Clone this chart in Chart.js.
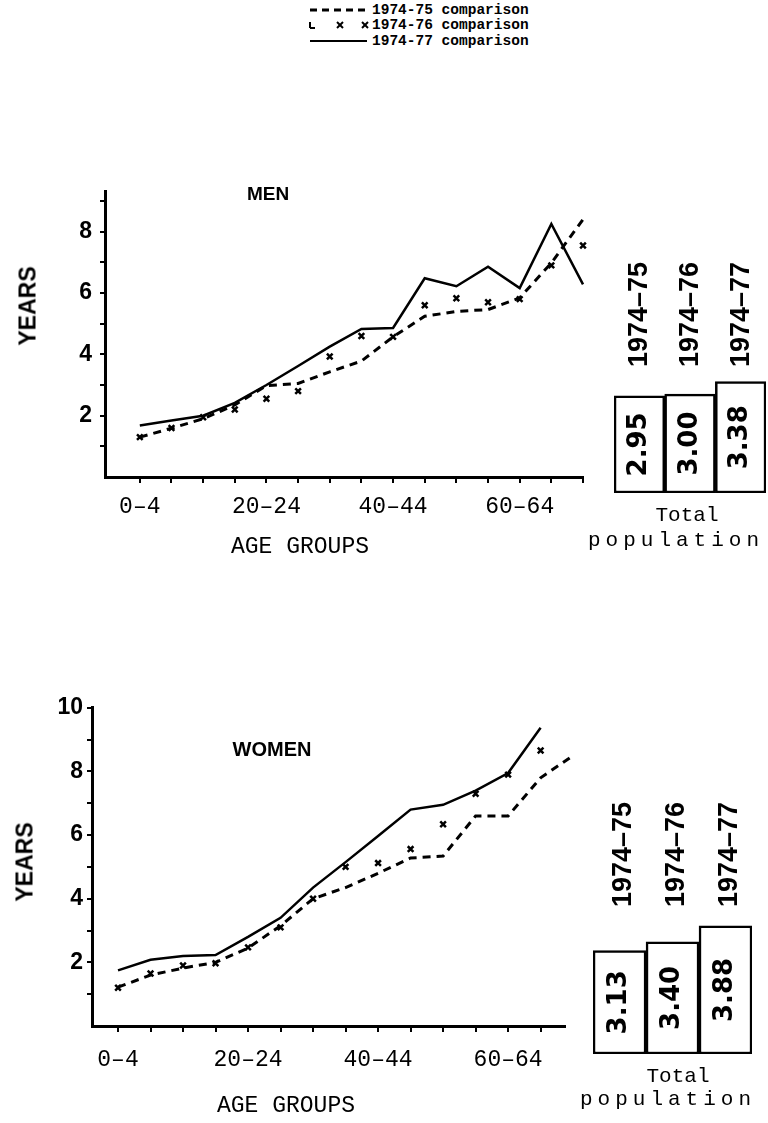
<!DOCTYPE html>
<html><head><meta charset="utf-8">
<script src="https://cdn.jsdelivr.net/npm/chart.js@4.4.1/dist/chart.umd.min.js"></script>
<style>
html,body{margin:0;padding:0;background:#fff;}
body{width:768px;height:1123px;position:relative;overflow:hidden;}
canvas{position:absolute;}
.t{position:absolute;white-space:nowrap;color:#000;transform:translate(-50%,-50%);line-height:1;}
.r{transform:translate(-50%,-50%) rotate(-90deg);}
.mono{font-family:"Liberation Mono","DejaVu Sans Mono",monospace;}
.sans{font-family:"Liberation Sans",Arial,sans-serif;font-weight:bold;}
.lg{position:absolute;left:372px;white-space:nowrap;font-family:"Liberation Mono",monospace;font-weight:bold;font-size:14.5px;line-height:1;transform:translateY(-50%);}
</style></head><body>

<svg style="position:absolute;left:300px;top:0" width="75" height="50">
  <line x1="10" y1="10" x2="66" y2="10" stroke="#000" stroke-width="3" stroke-dasharray="7,5"/>
  <g stroke="#000" stroke-width="2">
    <line x1="10" y1="22" x2="10" y2="28"/><line x1="10" y1="28" x2="15" y2="28"/>
    <line x1="37" y1="22" x2="43" y2="28"/><line x1="43" y1="22" x2="37" y2="28"/>
    <line x1="62" y1="22" x2="68" y2="28"/><line x1="68" y1="22" x2="62" y2="28"/>
  </g>
  <line x1="10" y1="41" x2="67" y2="41" stroke="#000" stroke-width="2"/>
</svg>
<div class="lg" id="lg0" style="top:10px"></div>
<div class="lg" id="lg1" style="top:25px"></div>
<div class="lg" id="lg2" style="top:41px"></div>

<canvas id="men" width="610" height="400" style="left:0;top:170px"></canvas>
<canvas id="menBox" width="168" height="245" style="left:600px;top:250px"></canvas>
<canvas id="women" width="600" height="430" style="left:0;top:690px"></canvas>
<canvas id="womenBox" width="188" height="266" style="left:580px;top:790px"></canvas>

<div class="t sans" style="left:268px;top:193px;font-size:19px">MEN</div>
<div class="t sans" style="left:272px;top:749px;font-size:20px">WOMEN</div>
<div class="t sans r" style="left:28px;top:306px;font-size:23px">YEARS</div>
<div class="t sans r" style="left:25px;top:862px;font-size:23px">YEARS</div>
<div class="t mono" style="left:300px;top:547px;font-size:23px">AGE GROUPS</div>
<div class="t mono" style="left:286px;top:1106px;font-size:23px">AGE GROUPS</div>
<div class="t mono" style="left:687px;top:515px;font-size:21px">Total</div>
<div class="t mono" style="left:676px;top:540px;font-size:21px;letter-spacing:5px">population</div>
<div class="t mono" style="left:678px;top:1076px;font-size:21px">Total</div>
<div class="t mono" style="left:668px;top:1099px;font-size:21px;letter-spacing:5px">population</div>

<script>
// ---- data ----
const ageGroups = ['0–4','5–9','10–14','15–19','20–24','25–29','30–34','35–39','40–44','45–49','50–54','55–59','60–64','65–69','70–74'];
const seriesNames = ['1974-75 comparison','1974-76 comparison','1974-77 comparison'];
const yearLabels = ['1974–75','1974–76','1974–77'];

const men7475 = [1.3, 1.59, 1.9, 2.35, 2.98, 3.05, 3.43, 3.78, 4.57, 5.24, 5.4, 5.46, 5.84, 6.98, 8.4];
const men7476 = [1.3, 1.6, 1.95, 2.2, 2.55, 2.8, 3.93, 4.6, 4.57, 5.6, 5.83, 5.7, 5.8, 6.9, 7.55];
const men7477 = [1.68, 1.84, 2.0, 2.42, 3.0, 3.62, 4.25, 4.83, 4.86, 6.48, 6.22, 6.86, 6.16, 8.25, 6.28];

const women7475 = [1.22, 1.6, 1.82, 2.0, 2.45, 3.15, 4.0, 4.35, 4.8, 5.28, 5.34, 6.6, 6.6, 7.8, 8.5];
const women7476 = [1.2, 1.65, 1.9, 1.97, 2.47, 3.1, 4.0, 5.0, 5.12, 5.56, 6.34, 7.3, 7.9, 8.66, 9.47];
const women7477 = [1.75, 2.08, 2.2, 2.23, 2.8, 3.4, 4.35, 5.15, 5.97, 6.8, 6.95, 7.4, 7.95, 9.37];

const menYTicks = [1,2,3,4,5,6,7,8,9];
const womenYTicks = [1,2,3,4,5,6,7,8,9,10];

const menTotal = [2.95, 3.00, 3.38];
const womenTotal = [3.13, 3.40, 3.88];

// ---- legend text ----
seriesNames.forEach((n,i)=>{document.getElementById('lg'+i).textContent=n;});

const pts = arr => arr.map((v,i)=>({x:i,y:v}));

function lineChart(id, s75, s76, s77, g){
  new Chart(document.getElementById(id), {
    type:'line',
    data:{datasets:[
      {label:seriesNames[0], data:pts(s75), borderColor:'#000', borderWidth:3, borderDash:[8,6], pointRadius:0, fill:false, tension:0, clip:false},
      {label:seriesNames[1], data:pts(s76), showLine:false, pointStyle:'crossRot', pointRadius:4, pointBorderWidth:2.5, pointBorderColor:'#000', pointBackgroundColor:'#000', clip:false},
      {label:seriesNames[2], data:pts(s77), borderColor:'#000', borderWidth:2.5, pointRadius:0, fill:false, tension:0, clip:false}
    ]},
    options:{
      responsive:false, animation:false, events:[],
      layout:{padding:{top:g.padTop,right:g.padRight,left:0,bottom:0}},
      plugins:{legend:{display:false},tooltip:{enabled:false}},
      scales:{
        x:{type:'linear', min:g.xmin, max:g.xmax,
          afterBuildTicks:s=>{s.ticks=ageGroups.map((a,i)=>({value:i})).filter(t=>t.value<=g.xmax+0.001);},
          afterFit:s=>{s.height=g.xh;},
          grid:{drawOnChartArea:false,color:'#000',lineWidth:2,tickLength:6},
          border:{color:'#000',width:3},
          ticks:{autoSkip:false,maxRotation:0,minRotation:0,padding:g.xpad,color:'#000',
            font:{family:'"Liberation Mono", monospace',size:23},
            callback:v=> (v%4===0 ? ageGroups[v] : '')}
        },
        y:{type:'linear', min:0, max:g.ymax,
          afterBuildTicks:s=>{s.ticks=g.yticks.map(v=>({value:v}));},
          afterFit:s=>{s.width=g.yw;},
          grid:{drawOnChartArea:false,color:'#000',lineWidth:2,tickLength:5},
          border:{color:'#000',width:3},
          ticks:{padding:g.ypad,color:'#000',
            font:{family:'"Liberation Sans", Arial, sans-serif',size:23,weight:'bold'},
            callback:v=> (v%2===0 ? String(v) : '')}
        }
      }
    }
  });
}

lineChart('men', men7475, men7476, men7477,
  {padTop:13,padRight:27,xmin:-1.1,xmax:14,xh:93,xpad:10,ymax:9.3,yticks:menYTicks,yw:105,ypad:8});
lineChart('women', women7475, women7476, women7477,
  {padTop:17,padRight:35,xmin:-0.8,xmax:13.75,xh:94,xpad:14,ymax:10,yticks:womenYTicks,yw:92,ypad:4});

const boxValues = {
  id:'boxValues',
  afterDatasetsDraw(chart){
    const ctx=chart.ctx, meta=chart.getDatasetMeta(0), d=chart.data.datasets[0].data;
    meta.data.forEach((bar,i)=>{
      ctx.save();
      ctx.translate(bar.x,(bar.y+bar.base)/2);
      ctx.rotate(-Math.PI/2);
      ctx.font='bold 26px "DejaVu Sans", sans-serif';
      ctx.textAlign='center'; ctx.textBaseline='middle'; ctx.fillStyle='#000';
      ctx.fillText(d[i].toFixed(2),0,0);
      ctx.restore();
    });
  }
};

function boxChart(id, vals, g){
  new Chart(document.getElementById(id), {
    type:'bar',
    data:{labels:yearLabels, datasets:[{data:vals, backgroundColor:'#fff', borderColor:'#000', borderWidth:2.5, borderSkipped:false, barPercentage:1, categoryPercentage:1}]},
    options:{
      responsive:false, animation:false, events:[],
      layout:{padding:{left:g.pl,right:g.pr,top:0,bottom:2}},
      plugins:{legend:{display:false},tooltip:{enabled:false}},
      scales:{
        x:{position:'top', afterFit:s=>{s.height=g.xh;},
          grid:{display:false,drawTicks:false}, border:{display:false},
          ticks:{autoSkip:false,minRotation:90,maxRotation:90,padding:5,labelOffset:g.lo,color:'#000',
            font:{family:'"Liberation Sans", Arial, sans-serif',size:27,weight:'bold'}}},
        y:{display:false,min:0,max:g.ymax}
      }
    },
    plugins:[boxValues]
  });
}
boxChart('menBox', menTotal, {pl:12,pr:2,xh:122,ymax:3.67,lo:33});
boxChart('womenBox', womenTotal, {pl:13,pr:16,xh:122,ymax:4.3,lo:36});
</script>
</body></html>
